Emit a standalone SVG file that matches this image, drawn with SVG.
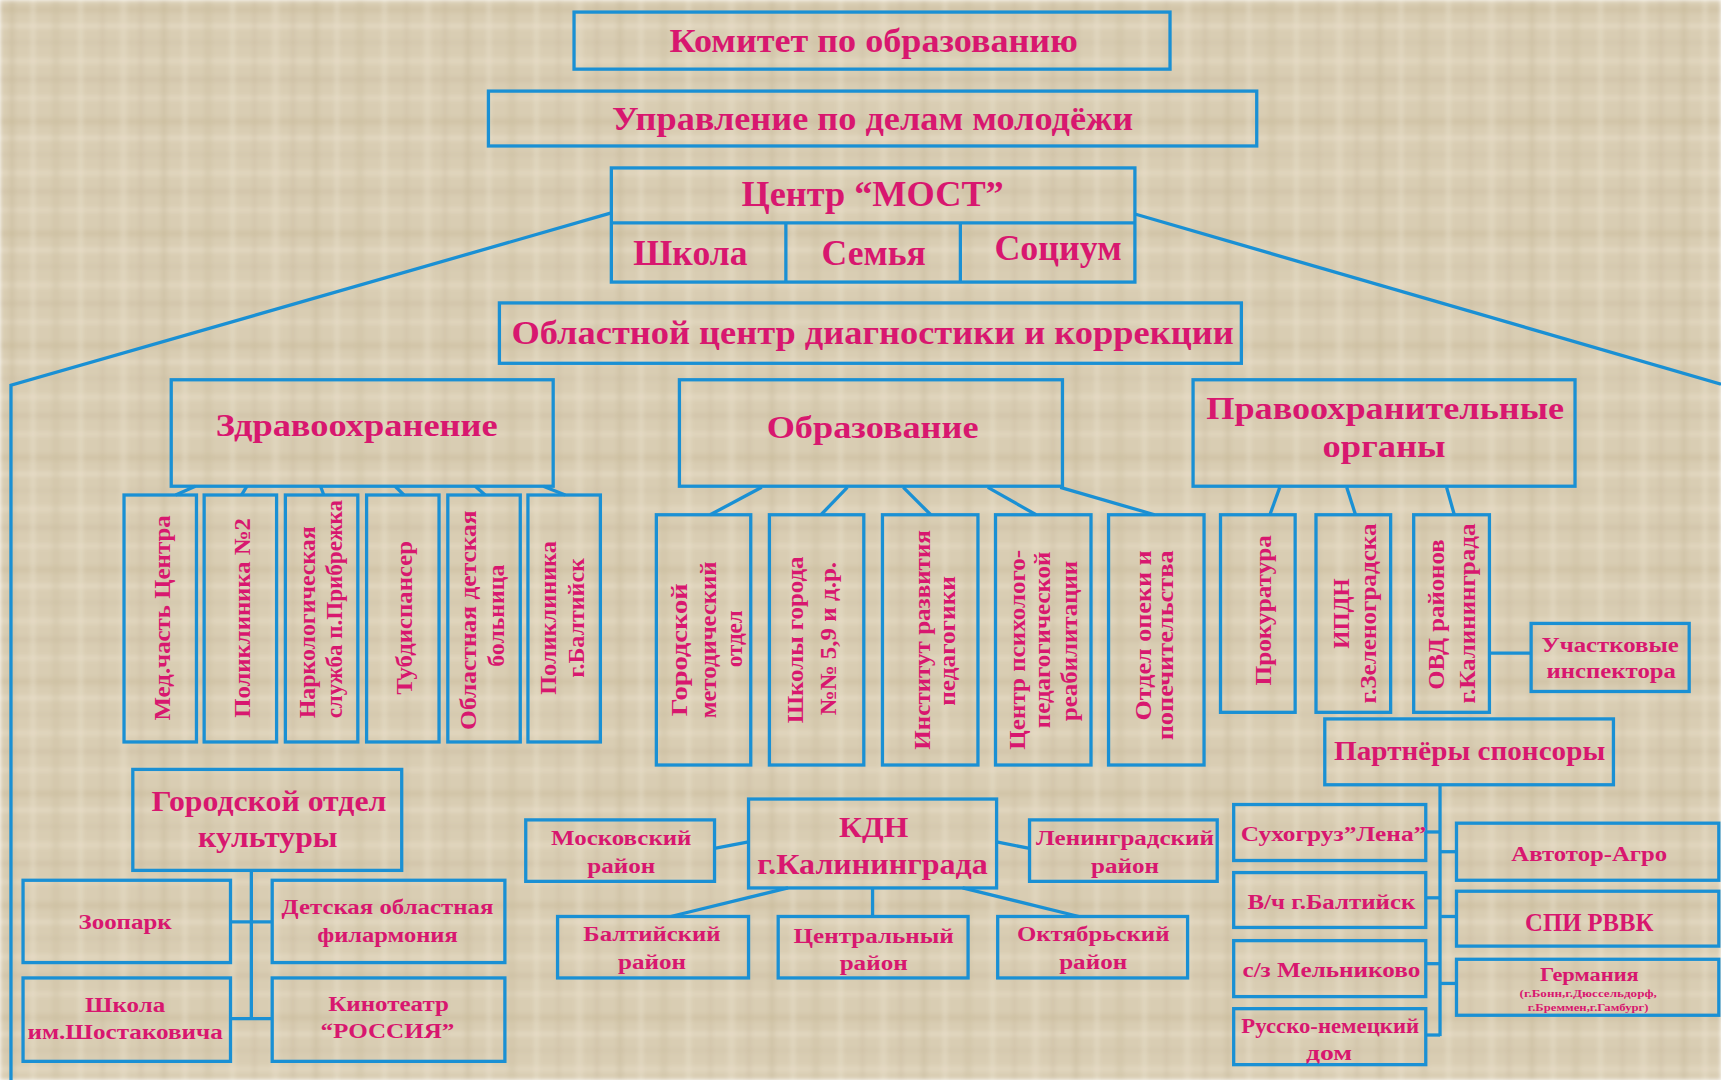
<svg xmlns="http://www.w3.org/2000/svg" width="1721" height="1080" viewBox="0 0 1721 1080">
<defs>
<pattern id="tex" width="152" height="112" patternUnits="userSpaceOnUse">
<rect width="152" height="112" fill="#d9cdb3"/>
<rect x="0" y="6" width="152" height="7" fill="#c8b999" opacity=".4"/>
<rect x="0" y="24" width="152" height="4" fill="#ece3cf" opacity=".55"/>
<rect x="0" y="41" width="152" height="3" fill="#c9bb9d" opacity=".35"/>
<rect x="0" y="58" width="152" height="6" fill="#e9dfca" opacity=".5"/>
<rect x="0" y="77" width="152" height="5" fill="#c5b697" opacity=".35"/>
<rect x="0" y="96" width="152" height="4" fill="#ebe2ce" opacity=".5"/>
<rect x="9" y="0" width="6" height="112" fill="#c2b393" opacity=".3"/>
<rect x="31" y="0" width="4" height="112" fill="#ede5d2" opacity=".45"/>
<rect x="52" y="0" width="8" height="112" fill="#c6b899" opacity=".28"/>
<rect x="78" y="0" width="5" height="112" fill="#eee6d3" opacity=".4"/>
<rect x="101" y="0" width="3" height="112" fill="#c1b292" opacity=".3"/>
<rect x="120" y="0" width="7" height="112" fill="#ebe2ce" opacity=".4"/>
<rect x="139" y="0" width="4" height="112" fill="#c4b596" opacity=".3"/>
</pattern>
<filter id="soft"><feGaussianBlur stdDeviation="2"/></filter>
<style>
.b{fill:none;stroke:#1a90d4;stroke-width:3}
.c{fill:none;stroke:#1a90d4;stroke-width:3}
text{font-family:"Liberation Serif","Times New Roman",serif;font-weight:bold;fill:#d8176f;text-anchor:middle}
.v{font-size:21px}
</style>
</defs>
<rect width="1721" height="1080" fill="url(#tex)" filter="url(#soft)"/>
<g transform="scale(1.09758)">
<g id="connectors">
<polyline class="c" points="557,194 10,351 10,984"/>
<line class="c" x1="1034" y1="195" x2="1568" y2="350"/>
<line class="c" x1="178" y1="443" x2="160" y2="451"/>
<line class="c" x1="225" y1="443" x2="220" y2="451"/>
<line class="c" x1="292" y1="443" x2="295" y2="451"/>
<line class="c" x1="360" y1="443" x2="368" y2="451"/>
<line class="c" x1="433" y1="443" x2="442" y2="451"/>
<line class="c" x1="495" y1="443" x2="515" y2="451"/>
<line class="c" x1="694" y1="444" x2="647" y2="469"/>
<line class="c" x1="772" y1="444" x2="748" y2="469"/>
<line class="c" x1="823" y1="444" x2="848" y2="469"/>
<line class="c" x1="900" y1="444" x2="944" y2="469"/>
<line class="c" x1="966" y1="444" x2="1052" y2="469"/>
<line class="c" x1="1166" y1="444" x2="1157" y2="469"/>
<line class="c" x1="1227" y1="444" x2="1235" y2="469"/>
<line class="c" x1="1318" y1="444" x2="1325" y2="469"/>
<line class="c" x1="1357" y1="595" x2="1395" y2="595"/>
<line class="c" x1="229" y1="793" x2="229" y2="928"/>
<line class="c" x1="209" y1="840" x2="248" y2="840"/>
<line class="c" x1="209" y1="928" x2="248" y2="928"/>
<line class="c" x1="651" y1="773" x2="682" y2="767"/>
<line class="c" x1="908" y1="767" x2="938" y2="773"/>
<line class="c" x1="718" y1="809" x2="611" y2="835"/>
<line class="c" x1="795" y1="809" x2="795" y2="835"/>
<line class="c" x1="877" y1="809" x2="983" y2="835"/>
<line class="c" x1="1312" y1="715" x2="1312" y2="944"/>
<line class="c" x1="1299" y1="758" x2="1312" y2="758"/>
<line class="c" x1="1299" y1="818" x2="1312" y2="818"/>
<line class="c" x1="1299" y1="878" x2="1312" y2="878"/>
<line class="c" x1="1299" y1="943" x2="1312" y2="943"/>
<line class="c" x1="1312" y1="776" x2="1327" y2="776"/>
<line class="c" x1="1312" y1="835" x2="1327" y2="835"/>
<line class="c" x1="1312" y1="896" x2="1327" y2="896"/>
</g>

<g id="komitet"><rect class="b" x="523" y="11" width="543" height="52"/><text x="796" y="47" font-size="30" textLength="372" lengthAdjust="spacingAndGlyphs">Комитет по образованию</text></g>
<g id="upravlenie"><rect class="b" x="445" y="83" width="700" height="50"/><text x="795" y="118" font-size="30" textLength="475" lengthAdjust="spacingAndGlyphs">Управление по делам молодёжи</text></g>
<g id="most"><rect class="b" x="557" y="153" width="477" height="104"/><line class="c" x1="557" y1="203" x2="1034" y2="203"/><line class="c" x1="716" y1="203" x2="716" y2="257"/><line class="c" x1="875" y1="203" x2="875" y2="257"/>
<text x="795" y="188" font-size="32" textLength="239" lengthAdjust="spacingAndGlyphs">Центр “МОСТ”</text>
<text x="629" y="241" font-size="32" textLength="104" lengthAdjust="spacingAndGlyphs">Школа</text>
<text x="796" y="241" font-size="32" textLength="95" lengthAdjust="spacingAndGlyphs">Семья</text>
<text x="964" y="237" font-size="32" textLength="116" lengthAdjust="spacingAndGlyphs">Социум</text></g>
<g id="oblcentr"><rect class="b" x="455" y="276" width="676" height="55"/><text x="795" y="313" font-size="30" textLength="658" lengthAdjust="spacingAndGlyphs">Областной центр диагностики и коррекции</text></g>

<g id="zdrav"><rect class="b" x="156" y="346" width="348" height="97"/><text x="325" y="397" font-size="29" textLength="257" lengthAdjust="spacingAndGlyphs">Здравоохранение</text></g>
<g id="obraz"><rect class="b" x="619" y="346" width="349" height="97"/><text x="795" y="399" font-size="29" textLength="193" lengthAdjust="spacingAndGlyphs">Образование</text></g>
<g id="pravo"><rect class="b" x="1087" y="346" width="348" height="97"/><text x="1262" y="382" font-size="29" textLength="326" lengthAdjust="spacingAndGlyphs">Правоохранительные</text><text x="1261" y="416" font-size="29" textLength="112" lengthAdjust="spacingAndGlyphs">органы</text></g>

<g id="medchast"><rect class="b" x="113" y="451" width="66" height="225"/><text class="v" transform="translate(155,563) rotate(-90)" textLength="187" lengthAdjust="spacingAndGlyphs">Мед.часть Центра</text></g>
<g id="poli2"><rect class="b" x="186" y="451" width="66" height="225"/><text class="v" transform="translate(228,563) rotate(-90)" textLength="182" lengthAdjust="spacingAndGlyphs">Поликлиника №2</text></g>
<g id="narko"><rect class="b" x="260" y="451" width="66" height="225"/><text class="v" transform="translate(287,567) rotate(-90)" textLength="175" lengthAdjust="spacingAndGlyphs">Наркологическая</text><text class="v" transform="translate(312,555) rotate(-90)" textLength="199" lengthAdjust="spacingAndGlyphs">служба п.Прибрежка</text></g>
<g id="tubdisp"><rect class="b" x="334" y="451" width="66" height="225"/><text class="v" transform="translate(375,563) rotate(-90)" textLength="140" lengthAdjust="spacingAndGlyphs">Тубдиспансер</text></g>
<g id="odb"><rect class="b" x="408" y="451" width="66" height="225"/><text class="v" transform="translate(434,565) rotate(-90)" textLength="200" lengthAdjust="spacingAndGlyphs">Областная детская</text><text class="v" transform="translate(459,561) rotate(-90)" textLength="93" lengthAdjust="spacingAndGlyphs">больница</text></g>
<g id="polibalt"><rect class="b" x="481" y="451" width="66" height="225"/><text class="v" transform="translate(507,563) rotate(-90)" textLength="140" lengthAdjust="spacingAndGlyphs">Поликлиника</text><text class="v" transform="translate(532,563) rotate(-90)" textLength="109" lengthAdjust="spacingAndGlyphs">г.Балтийск</text></g>

<g id="gmo"><rect class="b" x="598" y="469" width="86" height="228"/><text class="v" transform="translate(626,592) rotate(-90)" textLength="121" lengthAdjust="spacingAndGlyphs">Городской</text><text class="v" transform="translate(652,583) rotate(-90)" textLength="143" lengthAdjust="spacingAndGlyphs">методический</text><text class="v" transform="translate(676,582) rotate(-90)" textLength="52" lengthAdjust="spacingAndGlyphs">отдел</text></g>
<g id="shkoly"><rect class="b" x="701" y="469" width="86" height="228"/><text class="v" transform="translate(732,583) rotate(-90)" textLength="152" lengthAdjust="spacingAndGlyphs">Школы города</text><text class="v" transform="translate(762,582) rotate(-90)" textLength="140" lengthAdjust="spacingAndGlyphs">№№ 5,9 и д.р.</text></g>
<g id="institut"><rect class="b" x="804" y="469" width="87" height="228"/><text class="v" transform="translate(847,583) rotate(-90)" textLength="200" lengthAdjust="spacingAndGlyphs">Институт развития</text><text class="v" transform="translate(870,584) rotate(-90)" textLength="118" lengthAdjust="spacingAndGlyphs">педагогики</text></g>
<g id="cppr"><rect class="b" x="907" y="469" width="87" height="228"/><text class="v" transform="translate(934,592) rotate(-90)" textLength="182" lengthAdjust="spacingAndGlyphs">Центр психолого-</text><text class="v" transform="translate(957,583) rotate(-90)" textLength="161" lengthAdjust="spacingAndGlyphs">педагогической</text><text class="v" transform="translate(981,584) rotate(-90)" textLength="146" lengthAdjust="spacingAndGlyphs">реабилитации</text></g>
<g id="opeka"><rect class="b" x="1010" y="469" width="87" height="228"/><text class="v" transform="translate(1049,579) rotate(-90)" textLength="155" lengthAdjust="spacingAndGlyphs">Отдел опеки и</text><text class="v" transform="translate(1069,588) rotate(-90)" textLength="173" lengthAdjust="spacingAndGlyphs">попечительства</text></g>

<g id="prokuratura"><rect class="b" x="1112" y="469" width="68" height="180"/><text class="v" transform="translate(1158,556) rotate(-90)" textLength="137" lengthAdjust="spacingAndGlyphs">Прокуратура</text></g>
<g id="ipdn"><rect class="b" x="1199" y="469" width="68" height="180"/><text class="v" transform="translate(1229,559) rotate(-90)" textLength="64" lengthAdjust="spacingAndGlyphs">ИПДН</text><text class="v" transform="translate(1254,559) rotate(-90)" textLength="164" lengthAdjust="spacingAndGlyphs">г.Зеленоградска</text></g>
<g id="ovd"><rect class="b" x="1288" y="469" width="69" height="180"/><text class="v" transform="translate(1316,560) rotate(-90)" textLength="137" lengthAdjust="spacingAndGlyphs">ОВД районов</text><text class="v" transform="translate(1344,559) rotate(-90)" textLength="164" lengthAdjust="spacingAndGlyphs">г.Калининграда</text></g>
<g id="uchastkovye"><rect class="b" x="1395" y="568" width="144" height="62"/><text x="1467" y="594" font-size="20" textLength="125" lengthAdjust="spacingAndGlyphs">Участковые</text><text x="1468" y="618" font-size="20" textLength="118" lengthAdjust="spacingAndGlyphs">инспектора</text></g>

<g id="partnery"><rect class="b" x="1207" y="655" width="263" height="60"/><text x="1339" y="692" font-size="24" textLength="247" lengthAdjust="spacingAndGlyphs">Партнёры спонсоры</text></g>
<g id="suhogruz"><rect class="b" x="1124" y="733" width="175" height="51"/><text x="1215" y="766" font-size="19" textLength="169" lengthAdjust="spacingAndGlyphs">Сухогруз”Лена”</text></g>
<g id="vch"><rect class="b" x="1124" y="795" width="175" height="50"/><text x="1213" y="828" font-size="19" textLength="153" lengthAdjust="spacingAndGlyphs">В/ч г.Балтийск</text></g>
<g id="melnikovo"><rect class="b" x="1124" y="857" width="175" height="51"/><text x="1213" y="890" font-size="19" textLength="162" lengthAdjust="spacingAndGlyphs">с/з Мельниково</text></g>
<g id="rnd"><rect class="b" x="1124" y="919" width="175" height="51"/><text x="1212" y="941" font-size="19" textLength="162" lengthAdjust="spacingAndGlyphs">Русско-немецкий</text><text x="1211" y="966" font-size="19" textLength="42" lengthAdjust="spacingAndGlyphs">дом</text></g>
<g id="avtotor"><rect class="b" x="1327" y="750" width="239" height="52"/><text x="1448" y="784" font-size="20" textLength="142" lengthAdjust="spacingAndGlyphs">Автотор-Агро</text></g>
<g id="spi"><rect class="b" x="1327" y="812" width="239" height="50"/><text x="1448" y="848" font-size="22" textLength="117" lengthAdjust="spacingAndGlyphs">СПИ РВВК</text></g>
<g id="germaniya"><rect class="b" x="1327" y="874" width="239" height="51"/><text x="1448" y="894" font-size="18" textLength="90" lengthAdjust="spacingAndGlyphs">Германия</text><text x="1447" y="908" font-size="9" textLength="125" lengthAdjust="spacingAndGlyphs">(г.Бонн,г.Дюссельдорф,</text><text x="1447" y="921" font-size="9" textLength="110" lengthAdjust="spacingAndGlyphs">г.Бреммен,г.Гамбург)</text></g>

<g id="kultura"><rect class="b" x="121" y="701" width="245" height="92"/><text x="245" y="739" font-size="26" textLength="214" lengthAdjust="spacingAndGlyphs">Городской отдел</text><text x="244" y="772" font-size="26" textLength="127" lengthAdjust="spacingAndGlyphs">культуры</text></g>
<g id="zoopark"><rect class="b" x="21" y="802" width="189" height="75"/><text x="114" y="846" font-size="20" textLength="85" lengthAdjust="spacingAndGlyphs">Зоопарк</text></g>
<g id="filarmoniya"><rect class="b" x="248" y="802" width="212" height="75"/><text x="353" y="833" font-size="20" textLength="193" lengthAdjust="spacingAndGlyphs">Детская областная</text><text x="353" y="858" font-size="20" textLength="128" lengthAdjust="spacingAndGlyphs">филармония</text></g>
<g id="shostakovich"><rect class="b" x="21" y="891" width="189" height="76"/><text x="114" y="922" font-size="20" textLength="73" lengthAdjust="spacingAndGlyphs">Школа</text><text x="114" y="947" font-size="20" textLength="178" lengthAdjust="spacingAndGlyphs">им.Шостаковича</text></g>
<g id="kinoteatr"><rect class="b" x="248" y="891" width="212" height="76"/><text x="354" y="921" font-size="20" textLength="110" lengthAdjust="spacingAndGlyphs">Кинотеатр</text><text x="353" y="946" font-size="20" textLength="122" lengthAdjust="spacingAndGlyphs">“РОССИЯ”</text></g>

<g id="kdn"><rect class="b" x="682" y="728" width="226" height="81"/><text x="796" y="763" font-size="27" textLength="63" lengthAdjust="spacingAndGlyphs">КДН</text><text x="795" y="796" font-size="27" textLength="210" lengthAdjust="spacingAndGlyphs">г.Калининграда</text></g>
<g id="moskovsky"><rect class="b" x="479" y="747" width="172" height="56"/><text x="566" y="770" font-size="19" textLength="128" lengthAdjust="spacingAndGlyphs">Московский</text><text x="566" y="795" font-size="19" textLength="62" lengthAdjust="spacingAndGlyphs">район</text></g>
<g id="leningradsky"><rect class="b" x="938" y="747" width="171" height="56"/><text x="1025" y="770" font-size="19" textLength="162" lengthAdjust="spacingAndGlyphs">Ленинградский</text><text x="1025" y="795" font-size="19" textLength="62" lengthAdjust="spacingAndGlyphs">район</text></g>
<g id="baltiysky"><rect class="b" x="508" y="835" width="174" height="56"/><text x="594" y="857" font-size="19" textLength="125" lengthAdjust="spacingAndGlyphs">Балтийский</text><text x="594" y="883" font-size="19" textLength="62" lengthAdjust="spacingAndGlyphs">район</text></g>
<g id="centralny"><rect class="b" x="709" y="835" width="173" height="56"/><text x="796" y="859" font-size="19" textLength="146" lengthAdjust="spacingAndGlyphs">Центральный</text><text x="796" y="884" font-size="19" textLength="62" lengthAdjust="spacingAndGlyphs">район</text></g>
<g id="oktyabrsky"><rect class="b" x="909" y="835" width="173" height="56"/><text x="996" y="857" font-size="19" textLength="139" lengthAdjust="spacingAndGlyphs">Октябрьский</text><text x="996" y="883" font-size="19" textLength="62" lengthAdjust="spacingAndGlyphs">район</text></g>
</g>
</svg>
